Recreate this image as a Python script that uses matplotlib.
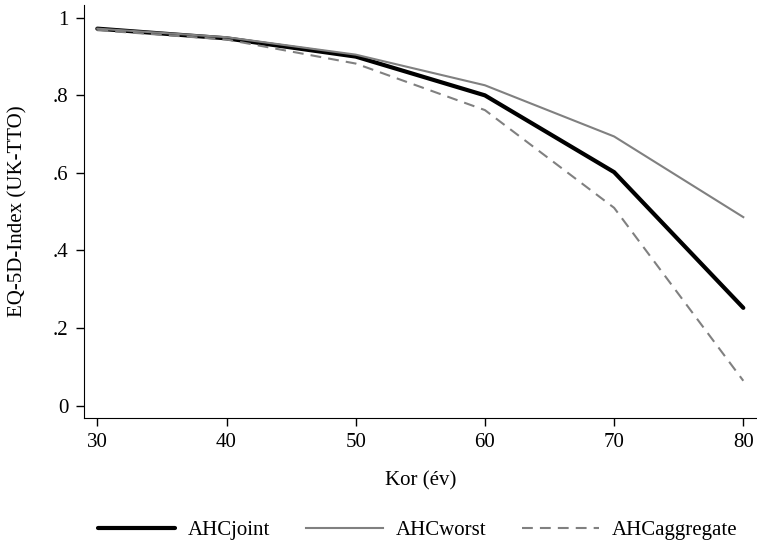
import numpy as np
import matplotlib.pyplot as plt

plt.rcParams['font.family'] = ['Liberation Serif', 'DejaVu Serif']

age = [30, 40, 50, 60, 70, 80]
ahc_joint = [0.972, 0.947, 0.900, 0.800, 0.602, 0.252]
ahc_worst = [0.972, 0.950, 0.905, 0.826, 0.694, 0.486]
ahc_aggregate = [0.968, 0.944, 0.882, 0.762, 0.510, 0.064]

fig = plt.figure(figsize=(7.57, 5.47), dpi=100)
ax = fig.add_axes([84/757, 1 - 418/547, (757 - 84)/757, (418 - 5)/547])

ax.plot(age, ahc_joint, color='black', lw=3.0, label='AHCjoint', solid_capstyle='round')
ax.plot(age, ahc_worst, color='#808080', lw=1.5, label='AHCworst')
ax.plot(age, ahc_aggregate, color='#808080', lw=1.5, ls=(0, (5.2, 3.4)), label='AHCaggregate')

ax.set_xlim(28.97, 81.06)
ax.set_ylim(-0.032, 1.033)
ax.set_xticks(age)
ax.set_yticks([0, 0.2, 0.4, 0.6, 0.8, 1.0])
ax.set_yticklabels(['0', '.2', '.4', '.6', '.8', '1'])
ax.spines['top'].set_visible(False)
ax.spines['right'].set_visible(False)
ax.tick_params(labelsize=15, length=6, width=1, pad=5)
ax.set_xlabel('Kor (év)', fontsize=15)
ax.set_ylabel('EQ-5D-Index (UK-TTO)', fontsize=15)
ax.xaxis.set_label_coords(0.5, -0.128)
ax.yaxis.set_label_coords(-0.084, 0.5)

fig.legend(loc='center', bbox_to_anchor=(417.5/757, 1 - 530/547), ncol=3, frameon=False,
           fontsize=15, handlelength=3.7, columnspacing=1.7, handletextpad=0.62)

fig.savefig('out.png', dpi=100)
